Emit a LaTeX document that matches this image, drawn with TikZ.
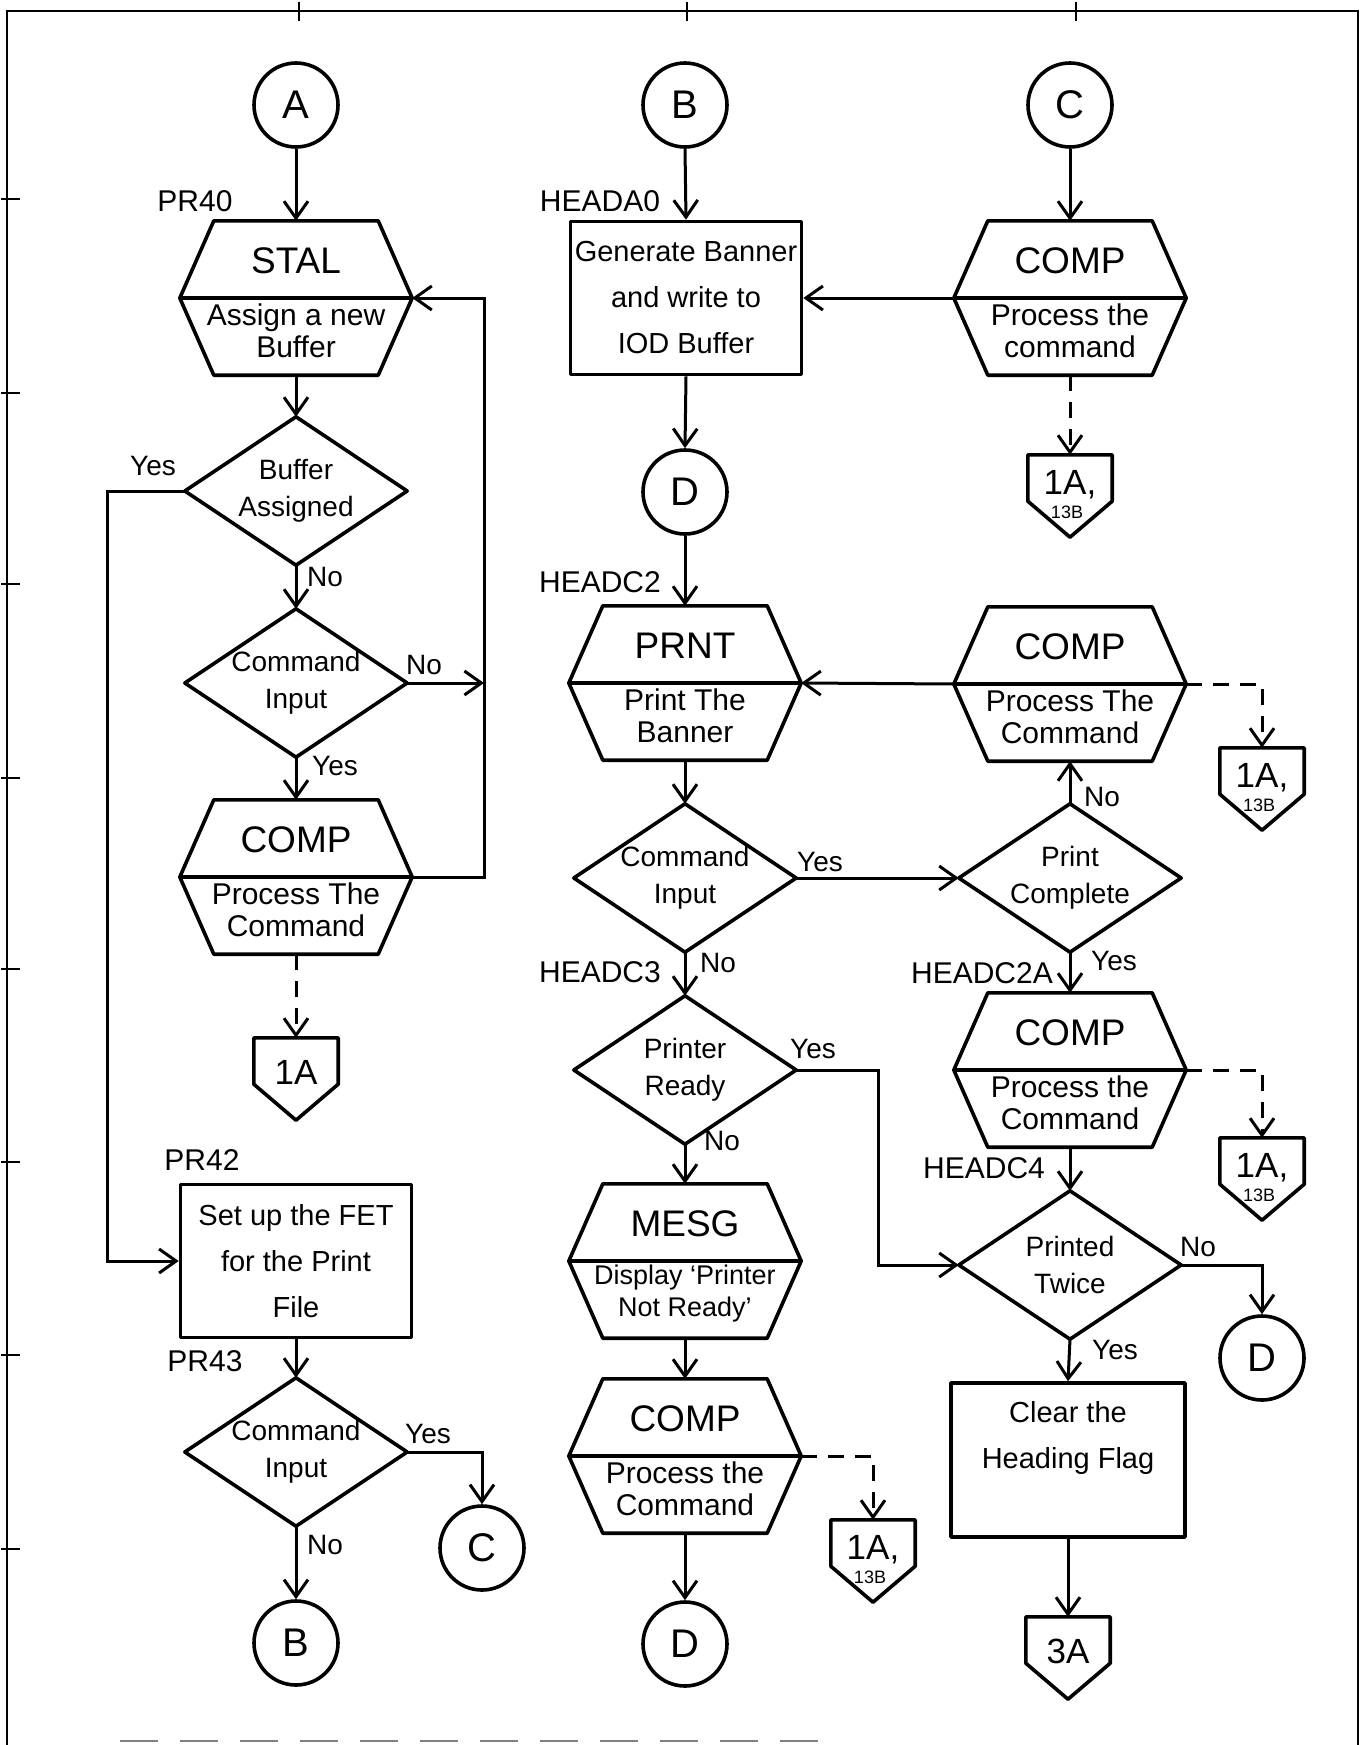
\documentclass[tikz,border=0pt]{standalone}
\usepackage{fontspec}
\setmainfont{Liberation Sans}
\usetikzlibrary{arrows.meta,calc}

\newcommand\fTitle{\fontsize{37}{40}\selectfont}
\newcommand\fDesc{\fontsize{30}{32}\selectfont}
\newcommand\fDescS{\fontsize{27}{32}\selectfont}
\newcommand\fDia{\fontsize{28}{37}\selectfont}
\newcommand\fBox{\fontsize{29}{46}\selectfont}
\newcommand\fCirc{\fontsize{40}{44}\selectfont}
\newcommand\fTag{\fontsize{30}{32}\selectfont}
\newcommand\fYN{\fontsize{28}{30}\selectfont}
\newcommand\fOff{\fontsize{35}{38}\selectfont}
\newcommand\fOffS{\fontsize{18}{20}\selectfont}

\tikzset{
  shapeline/.style={line width=3.6pt, line join=round},
  conn/.style={line width=3pt},
  arr/.style={conn, -{Straight Barb[length=17pt,width=24pt]}},
  dasharr/.style={arr, dash pattern=on 16pt off 11pt},
  hexbox/.style={rectangle, minimum width=232pt, minimum height=154pt, inner sep=0pt},
  diabox/.style={rectangle, minimum width=222pt, minimum height=148pt, inner sep=0pt, align=center, font=\fDia},
  procbox/.style={rectangle, draw, shapeline, minimum width=231pt, minimum height=153pt, inner sep=0pt, align=center, font=\fBox},
  boxtext/.style={inner sep=0pt, align=center, font=\fBox},
  conncirc/.style={circle, draw, shapeline, minimum size=84pt, inner sep=0pt, font=\fCirc},
  offbox/.style={rectangle, minimum width=84pt, minimum height=82pt, inner sep=0pt},
  offtxt/.style={inner sep=0pt, font=\fOff, text height=25pt, text depth=0pt},
  offsmall/.style={inner sep=0pt, font=\fOffS, text height=13pt, text depth=0pt},
  titletxt/.style={font=\fTitle, inner sep=0pt},
  desctxt/.style={font=\fDesc, align=center, inner sep=0pt},
  tag/.style={font=\fTag, inner sep=0pt},
  yn/.style={font=\fYN, inner sep=0pt},
  frame/.style={line width=2.8pt},
}

\newcommand\drawhex[1]{\draw[shapeline] ([xshift=34pt]#1.north west) -- ([xshift=-34pt]#1.north east) -- (#1.east) -- ([xshift=-34pt]#1.south east) -- ([xshift=34pt]#1.south west) -- (#1.west) -- cycle (#1.west) -- (#1.east);}
\newcommand\drawdia[1]{\draw[shapeline] (#1.north) -- (#1.east) -- (#1.south) -- (#1.west) -- cycle;}
\newcommand\drawoff[1]{\draw[shapeline] (#1.north west) -- (#1.north east) -- ([yshift=36pt]#1.south east) -- (#1.south) -- ([yshift=36pt]#1.south west) -- cycle;}
\newcommand\hexnode[5]{%
  \node[hexbox] (#1) at (#2,#3) {};
  \drawhex{#1}
  \node[titletxt] (#1-t) at ([yshift=37pt]#1.center) {#4};
  \node[desctxt] (#1-d) at ([yshift=-33pt]#1.center) {#5};
}

\begin{document}
\begin{tikzpicture}[x=1pt,y=-1pt]
\fill[white] (0,0) rectangle (1365,1745);
\useasboundingbox (0,0) rectangle (1365,1745);

% ---------- sheet frame ----------
\draw[frame] (7,1745) -- (7,11) -- (1358,11) -- (1358,1745);
\foreach \tx in {299,687,1076} \draw[frame] (\tx,2) -- (\tx,21);
\foreach \ty in {199,393,584,778,969,1162,1355,1549} \draw[frame] (1,\ty) -- (20,\ty);
\draw[line width=1.4pt, gray, dash pattern=on 38pt off 22pt] (120,1741) -- (820,1741);

% ---------- column 1 ----------
\node[conncirc] (A) at (296,105) {A};
\node[tag] (pr40) at (195,201) {PR40};
\hexnode{stal}{296}{298}{STAL}{Assign a new\\Buffer}
\node[diabox] (d1) at (296,491) {Buffer\\Assigned}; \drawdia{d1}
\node[diabox] (d2) at (296,683) {Command\\Input}; \drawdia{d2}
\hexnode{comp1}{296}{877}{COMP}{Process The\\Command}
\node[offbox] (o1) at (296,1079) {}; \drawoff{o1}
\node[offtxt] (o1-t) at (296,1072) {1A};
\node[tag] (pr42l) at (202,1160) {PR42};
\node[procbox] (pr42) at (296,1261) {Set up the FET\\for the Print\\File};
\node[tag] (pr43) at (205,1361) {PR43};
\node[diabox] (d3) at (296,1452) {Command\\Input}; \drawdia{d3}
\node[conncirc] (C2) at (482,1548) {C};
\node[conncirc] (B2) at (296,1643) {B};

% ---------- column 2 ----------
\node[conncirc] (B) at (685,105) {B};
\node[tag] (heada0) at (600,201) {HEADA0};
\node[procbox] (gen) at (686,298) {Generate Banner\\and write to\\IOD Buffer};
\node[conncirc] (D1) at (685,492) {D};
\node[tag] (headc2) at (600,582) {HEADC2};
\hexnode{prnt}{685}{683}{PRNT}{Print The\\Banner}
\node[diabox] (d4) at (685,878) {Command\\Input}; \drawdia{d4}
\node[tag] (headc3) at (600,972) {HEADC3};
\node[diabox] (d5) at (685,1070) {Printer\\Ready}; \drawdia{d5}
\node[hexbox] (mesg) at (685,1261) {};
\drawhex{mesg}
\node[titletxt] (mesg-t) at ([yshift=37pt]mesg.center) {MESG};
\node[desctxt, font=\fDescS] (mesg-d) at ([yshift=-33pt]mesg.center) {Display ‘Printer\\Not Ready’};
\hexnode{comp3}{685}{1456}{COMP}{Process the\\Command}
\node[offbox] (o3) at (873,1561) {}; \drawoff{o3}
\node[offtxt] (o3-t) at (873,1547) {1A,};
\node[offsmall] (o3-s) at (870,1577) {13B};
\node[conncirc] (D3) at (685,1644) {D};

% ---------- column 3 ----------
\node[conncirc] (C) at (1070,105) {C};
\hexnode{compC}{1070}{298}{COMP}{Process the\\command}
\node[offbox] (o2) at (1070,496) {}; \drawoff{o2}
\node[offtxt] (o2-t) at (1070,482) {1A,};
\node[offsmall] (o2-s) at (1067,512) {13B};
\hexnode{comp2}{1070}{684}{COMP}{Process The\\Command}
\node[offbox] (o4) at (1262,789) {}; \drawoff{o4}
\node[offtxt] (o4-t) at (1262,775) {1A,};
\node[offsmall] (o4-s) at (1259,805) {13B};
\node[diabox] (d6) at (1070,878) {Print\\Complete}; \drawdia{d6}
\node[tag] (headc2a) at (982,973) {HEADC2A};
\hexnode{comp4}{1070}{1070}{COMP}{Process the\\Command}
\node[offbox] (o5) at (1262,1179) {}; \drawoff{o5}
\node[offtxt] (o5-t) at (1262,1165) {1A,};
\node[offsmall] (o5-s) at (1259,1195) {13B};
\node[tag] (headc4) at (984,1168) {HEADC4};
\node[diabox] (d7) at (1070,1265) {Printed\\Twice}; \drawdia{d7}
\node[conncirc] (D2) at (1262,1358) {D};
\node[procbox, minimum width=234pt, minimum height=154pt] (clear) at (1068,1460) {};
\node[boxtext] (clear-t) at (1068,1438) {Clear the\\Heading Flag};
\node[offbox] (o6) at (1068,1658) {}; \drawoff{o6}
\node[offtxt] (o6-t) at (1068,1651) {3A};

% ---------- Yes / No labels ----------
\node[yn] (y1) at (153,466) {Yes};
\node[yn] (n1) at (325,577) {No};
\node[yn] (n2) at (424,665) {No};
\node[yn] (y2) at (335,766) {Yes};
\node[yn] (y3) at (428,1434) {Yes};
\node[yn] (n3) at (325,1545) {No};
\node[yn] (y4) at (820,862) {Yes};
\node[yn] (n4) at (1102,797) {No};
\node[yn] (n5) at (718,963) {No};
\node[yn] (y5) at (1114,961) {Yes};
\node[yn] (y6) at (813,1049) {Yes};
\node[yn] (n6) at (722,1141) {No};
\node[yn] (n7) at (1198,1247) {No};
\node[yn] (y7) at (1115,1350) {Yes};

% ---------- connectors: column 1 ----------
\coordinate (loop) at (484,298);
\draw[arr] (A.south) -- (stal.north);
\draw[arr] (stal.south) -- (d1.north);
\draw[arr] (d1.west) -- ++(-77,0) |- (pr42.west);
\draw[arr] (d1.south) -- (d2.north);
\draw[arr] (d2.east) -- (d2.east -| loop);
\draw[arr] (comp1.east) -| (loop) -- (stal.east);
\draw[arr] (d2.south) -- (comp1.north);
\draw[dasharr] (comp1.south) -- (o1.north);
\draw[arr] (pr42.south) -- (d3.north);
\draw[arr] (d3.east) -| (C2.north);
\draw[arr] (d3.south) -- (B2.north);

% ---------- connectors: columns 2 and 3 ----------
\draw[arr] (B.south) -- (gen.north);
\draw[arr] (C.south) -- (compC.north);
\draw[arr] (compC.west) -- (gen.east);
\draw[dasharr] (compC.south) -- (o2.north);
\draw[arr] (gen.south) -- (D1.north);
\draw[arr] (D1.south) -- (prnt.north);
\draw[arr] (comp2.west) -- (prnt.east);
\draw[dasharr] (comp2.east) -| (o4.north);
\draw[arr] (prnt.south) -- (d4.north);
\draw[arr] (d4.east) -- (d6.west);
\draw[arr] (d6.north) -- (comp2.south);
\draw[arr] (d6.south) -- (comp4.north);
\draw[dasharr] (comp4.east) -| (o5.north);
\draw[arr] (d4.south) -- (d5.north);
\draw[arr] (d5.east) -- ++(82,0) |- (d7.west);
\draw[arr] (d5.south) -- (mesg.north);
\draw[arr] (mesg.south) -- (comp3.north);
\draw[dasharr] (comp3.east) -| (o3.north);
\draw[arr] (comp3.south) -- (D3.north);
\draw[arr] (comp4.south) -- (d7.north);
\draw[arr] (d7.east) -| (D2.north);
\draw[arr] (d7.south) -- (clear.north);
\draw[arr] (clear.south) -- (o6.north);
\end{tikzpicture}
\end{document}
